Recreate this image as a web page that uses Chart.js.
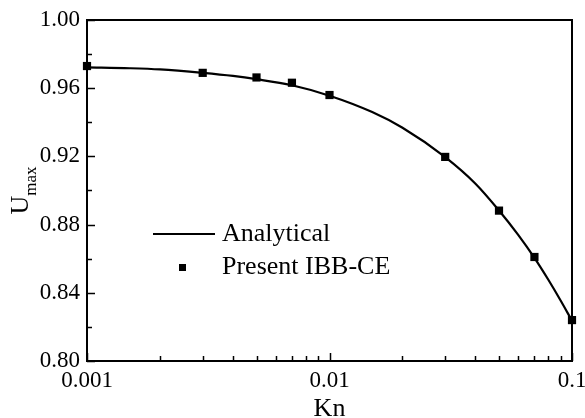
<!DOCTYPE html>
<html>
<head>
<meta charset="utf-8">
<script src="https://cdn.jsdelivr.net/npm/chart.js@4"></script>
<style>
  html, body { margin: 0; padding: 0; background: #fff; }
  #wrap { width: 585px; height: 418px; }
</style>
</head>
<body>
<div id="wrap"><canvas id="umaxChart" width="585" height="418"></canvas></div>
<script>
// data
const analyticalKn = [0.001, 0.0015, 0.002, 0.003, 0.004, 0.005, 0.007, 0.01, 0.015, 0.02, 0.03, 0.04, 0.05, 0.06, 0.07, 0.08, 0.09, 0.1];
const analyticalU = [0.9722, 0.9717, 0.9710, 0.9690, 0.9672, 0.9653, 0.9617, 0.9556, 0.9460, 0.9368, 0.9196, 0.9040, 0.8883, 0.8740, 0.8605, 0.8475, 0.8352, 0.8236];
const presentKn = [0.001, 0.003, 0.005, 0.007, 0.01, 0.03, 0.05, 0.07, 0.1];
const presentU = [0.9730, 0.9690, 0.9663, 0.9632, 0.9560, 0.9197, 0.8882, 0.8610, 0.8240];
const xTickValues = [0.001, 0.01, 0.1];
const yTickValues = [0.80, 0.84, 0.88, 0.92, 0.96, 1.00];

const FONT = "'Liberation Serif', 'Times New Roman', serif";

// frame, inward ticks, y title with subscript, legend inside the plot
const decorations = {
    id: "decorations",
    afterDraw(chart){
        const ctx = chart.ctx;
        const a = chart.chartArea;
        const xs = chart.scales.x, ys = chart.scales.y;
        ctx.save();
        ctx.strokeStyle = "#000";
        ctx.lineWidth = 2;
        ctx.beginPath();
        ctx.moveTo(a.left, a.top); ctx.lineTo(a.right, a.top); ctx.lineTo(a.right, a.bottom);
        ctx.stroke();

        ctx.lineWidth = 1.5;
        ctx.beginPath();
        // y ticks
        for(let v = 0.80; v <= 1.0001; v += 0.02){
            const y = Math.round(ys.getPixelForValue(v)) + 0.5;
            const major = Math.abs((v - 0.80) / 0.04 - Math.round((v - 0.80) / 0.04)) < 1e-6;
            ctx.moveTo(a.left, y); ctx.lineTo(a.left + (major ? 8 : 5), y);
        }
        // x ticks
        for(let d = 0.001; d < 0.1; d *= 10){
            for(let m = 1; m <= 10; m++){
                const v = d * m;
                const x = Math.round(xs.getPixelForValue(v)) + 0.5;
                const major = (m === 1 || m === 10);
                ctx.moveTo(x, a.bottom); ctx.lineTo(x, a.bottom - (major ? 8 : 5));
            }
        }
        ctx.stroke();

        // y title U_max
        ctx.fillStyle = "#000";
        ctx.font = "26px " + FONT;
        const wU = ctx.measureText("U").width;
        ctx.font = "17px " + FONT;
        const wSub = ctx.measureText("max").width;
        const cy = (a.top + a.bottom) / 2;
        ctx.translate(28, cy);
        ctx.rotate(-Math.PI / 2);
        ctx.textBaseline = "alphabetic";
        ctx.textAlign = "left";
        const start = -(wU + wSub) / 2;
        ctx.font = "26px " + FONT;
        ctx.fillText("U", start, 0);
        ctx.font = "17px " + FONT;
        ctx.fillText("max", start + wU, 8);
        ctx.setTransform(1, 0, 0, 1, 0, 0);

        // legend
        const lx = a.left + 66;
        ctx.lineWidth = 2.2;
        ctx.beginPath();
        ctx.moveTo(lx, 234); ctx.lineTo(lx + 62, 234);
        ctx.stroke();
        ctx.fillRect(lx + 26, 264, 7, 7);
        ctx.font = "26px " + FONT;
        ctx.textBaseline = "middle";
        ctx.fillText("Analytical", lx + 69, 234);
        ctx.fillText("Present IBB-CE", lx + 69, 267);
        ctx.restore();
    }
};

const ctx = document.getElementById("umaxChart").getContext("2d");
new Chart(ctx, {
    type: "scatter",
    data: {
        datasets: [
            {
                label: "Analytical",
                data: analyticalKn.map((k, i) => ({x: k, y: analyticalU[i]})),
                showLine: true,
                borderColor: "#000",
                borderWidth: 2.2,
                pointRadius: 0,
                cubicInterpolationMode: "monotone",
                clip: false
            },
            {
                label: "Present IBB-CE",
                data: presentKn.map((k, i) => ({x: k, y: presentU[i]})),
                showLine: false,
                pointStyle: "rect",
                pointRadius: 5.8,
                pointBorderWidth: 0,
                backgroundColor: "#000",
                borderColor: "#000",
                clip: false
            }
        ]
    },
    options: {
        responsive: false,
        animation: false,
        layout: { padding: { top: 20, right: 13, left: 0, bottom: 0 } },
        plugins: { legend: { display: false }, tooltip: { enabled: false } },
        scales: {
            x: {
                type: "logarithmic",
                min: 0.001,
                max: 0.1,
                afterBuildTicks: s => { s.ticks = xTickValues.map(v => ({value: v})); },
                afterFit: s => { s.height = 57; s.paddingLeft = 0; s.paddingRight = 0; },
                grid: { display: false, drawTicks: false },
                border: { display: true, color: "#000", width: 2 },
                ticks: {
                    color: "#000",
                    padding: 6,
                    maxRotation: 0,
                    font: { family: FONT, size: 23 },
                    callback: v => String(v)
                },
                title: {
                    display: true,
                    text: "Kn",
                    color: "#000",
                    font: { family: FONT, size: 26, lineHeight: 1 },
                    padding: { top: 0, bottom: -4 }
                }
            },
            y: {
                min: 0.80,
                max: 1.00,
                afterBuildTicks: s => { s.ticks = yTickValues.map(v => ({value: v})); },
                afterFit: s => { s.width = 87; s.paddingTop = 0; s.paddingBottom = 0; },
                grid: { display: false, drawTicks: false },
                border: { display: true, color: "#000", width: 2 },
                ticks: {
                    color: "#000",
                    padding: 7,
                    font: { family: FONT, size: 23 },
                    callback: v => v.toFixed(2)
                }
            }
        }
    },
    plugins: [decorations]
});
</script>
</body>
</html>
